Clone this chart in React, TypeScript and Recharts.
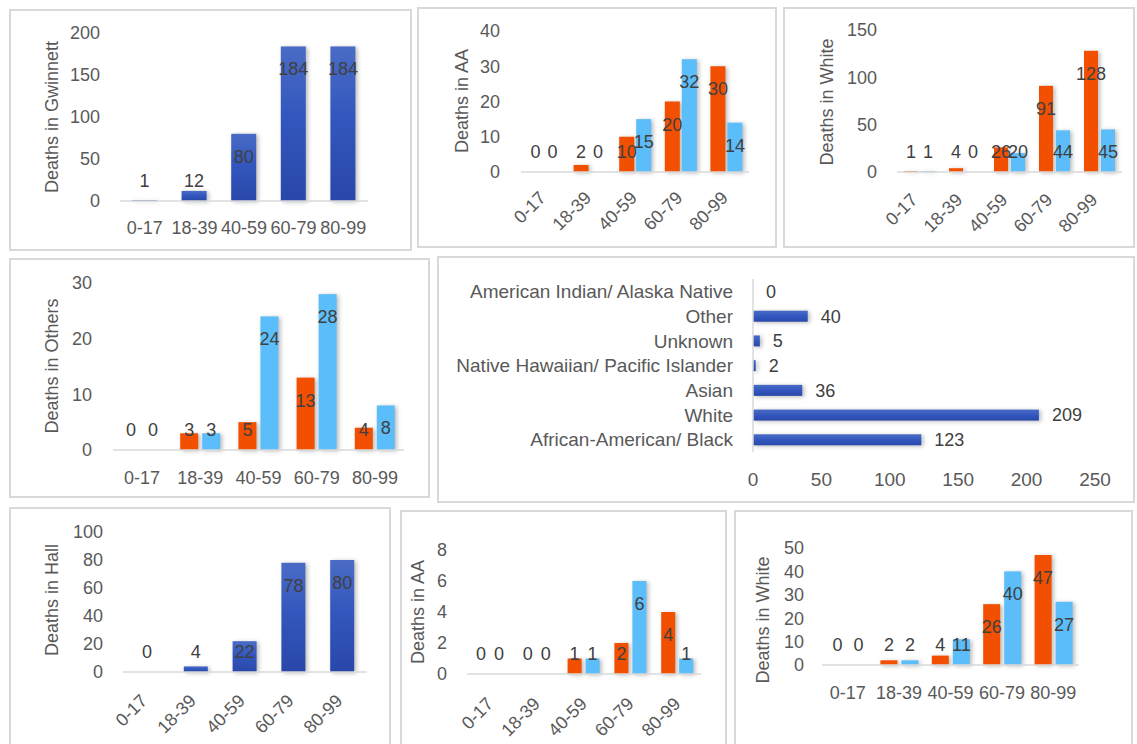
import React from "react";
import { BarChart, Bar, XAxis, YAxis, LabelList } from "recharts";

const FONT = "'Liberation Sans', Arial, sans-serif";
const ORANGE = "#F24F00";
const LIGHT_BLUE = "#5BBEFA";
const AXIS = { stroke: "#D9D9D9", strokeWidth: 1.5 };
const TICK = { fill: "#595959", fontSize: 18, fontFamily: FONT };

// age groups on every column chart
const AGES = ["0-17", "18-39", "40-59", "60-79", "80-99"];

// Gwinnett
const gwinnettAll = [1, 12, 80, 184, 184];
const gwinnettAA_a = [0, 2, 10, 20, 30];
const gwinnettAA_b = [0, 0, 15, 32, 14];
const gwinnettWhite_a = [1, 4, 26, 91, 128];
const gwinnettWhite_b = [1, 0, 20, 44, 45];
const others_a = [0, 3, 5, 13, 4];
const others_b = [0, 3, 24, 28, 8];

// race breakdown
const RACES = [
  "American Indian/ Alaska Native",
  "Other",
  "Unknown",
  "Native Hawaiian/ Pacific Islander",
  "Asian",
  "White",
  "African-American/ Black",
];
const raceDeaths = [0, 40, 5, 2, 36, 209, 123];

// Hall
const hallAll = [0, 4, 22, 78, 80];
const hallAA_a = [0, 0, 1, 2, 4];
const hallAA_b = [0, 0, 1, 6, 1];
const hallWhite_a = [0, 2, 4, 26, 47];
const hallWhite_b = [0, 2, 11, 40, 27];

// axis ticks
const ticks200 = [0, 50, 100, 150, 200];
const ticks40 = [0, 10, 20, 30, 40];
const ticks150 = [0, 50, 100, 150];
const ticks30 = [0, 10, 20, 30];
const ticks250 = [0, 50, 100, 150, 200, 250];
const ticks100 = [0, 20, 40, 60, 80, 100];
const ticks8 = [0, 2, 4, 6, 8];
const ticks50 = [0, 10, 20, 30, 40, 50];

const table = (a: number[], b?: number[]) =>
  AGES.map((age, i) =>
    b
      ? { age, a: a[i], b: b[i], aText: String(a[i]), bText: String(b[i]) }
      : { age, a: a[i], aText: String(a[i]) }
  );

const raceRows = RACES.map((race, i) => ({
  race,
  value: raceDeaths[i],
  valueText: String(raceDeaths[i]),
}));

const InsideLabel = (props: any) => {
  const vb =
    props.viewBox && typeof props.viewBox.height === "number" ? props.viewBox : props;
  const x = Number(vb.x);
  const y = Number(vb.y);
  const w = Number(vb.width);
  const h = Number(vb.height);
  const top = Math.min(y, y + h);
  const base = Math.max(y, y + h);
  const cy = Math.min(top + 23, base - 20);
  return (
    <text
      x={x + w / 2}
      y={cy}
      textAnchor="middle"
      dominantBaseline="central"
      fontSize={18}
      fontFamily={FONT}
      fill="#404040"
    >
      {props.value}
    </text>
  );
};

const ShadowRect = (props: any) => {
  const { x, y, width, height, fill } = props;
  if (!width || !height) return <g />;
  return (
    <rect
      x={x}
      y={y}
      width={width}
      height={height}
      fill={fill}
      style={{ filter: "drop-shadow(2px 1px 2px rgba(0,0,0,0.28))" }}
    />
  );
};

const RotTick = (props: any) => {
  const { x, y, payload, ox, oy } = props;
  return (
    <text
      x={0}
      y={0}
      transform={`translate(${x + ox},${y + oy}) rotate(-45)`}
      textAnchor="end"
      fontSize={18}
      fontFamily={FONT}
      fill="#595959"
    >
      {payload.value}
    </text>
  );
};

const Frame = ({ left, top, w, h, children }: any) => (
  <div style={{ position: "absolute", left, top, width: w, height: h }}>
    <div
      style={{
        position: "absolute",
        left: 0,
        top: 0,
        width: w,
        height: h,
        border: "2px solid #D9D9D9",
        boxSizing: "border-box",
      }}
    />
    <div style={{ position: "absolute", left: 0, top: 0 }}>{children}</div>
  </div>
);

const yTitle = (text: string, tx: number, ty: number) => () =>
  (
    <text
      transform={`translate(${tx},${ty}) rotate(-90)`}
      textAnchor="middle"
      dominantBaseline="central"
      fontSize={18}
      fontFamily={FONT}
      fill="#595959"
    >
      {text}
    </text>
  );

const ColumnPanel = (p: any) => {
  const grad = `blue-${p.id}`;
  const series = p.two
    ? [
        { key: "a", fill: ORANGE },
        { key: "b", fill: LIGHT_BLUE },
      ]
    : [{ key: "a", fill: `url(#${grad})` }];
  return (
    <Frame left={p.left} top={p.top} w={p.w} h={p.h}>
      <BarChart
        width={p.w}
        height={p.h}
        data={p.data}
        margin={{ top: p.mt, right: p.mr, left: 0, bottom: 0 }}
        barGap={p.gap ?? 4}
      >
        <defs>
          <linearGradient id={grad} x1="0" y1="0" x2="0" y2="1">
            <stop offset="0%" stopColor="#4A6CC6" />
            <stop offset="45%" stopColor="#3357BE" />
            <stop offset="100%" stopColor="#2947AA" />
          </linearGradient>
        </defs>
        <XAxis
          dataKey="age"
          height={p.xh}
          interval={0}
          axisLine={AXIS}
          tickLine={false}
          tickSize={0}
          tickMargin={p.rot ? 0 : p.xGap}
          tick={
            p.rot
              ? (t: any) => <RotTick {...t} ox={p.rot[0]} oy={p.rot[1]} />
              : TICK
          }
        />
        <YAxis
          type="number"
          domain={[0, p.ticks[p.ticks.length - 1]]}
          ticks={p.ticks}
          interval={0}
          width={p.yw}
          axisLine={false}
          tickLine={false}
          tickSize={0}
          tickMargin={p.yGap}
          tick={TICK}
          label={yTitle(p.title, p.tx, p.ty)}
        />
        {series.map((s) => (
          <Bar
            key={s.key}
            dataKey={s.key}
            fill={s.fill}
            barSize={p.size}
            shape={ShadowRect}
            isAnimationActive={false}
          >
            <LabelList dataKey={`${s.key}Text`} content={InsideLabel} />
          </Bar>
        ))}
      </BarChart>
    </Frame>
  );
};

export default function App() {
  return (
    <div
      style={{
        position: "absolute",
        left: 0,
        top: 0,
        width: 1137,
        height: 744,
        overflow: "hidden",
        background: "#ffffff",
        fontFamily: FONT,
      }}
    >
      <ColumnPanel
        id="gw"
        left={9}
        top={9}
        w={403}
        h={242}
        mt={24}
        mr={44}
        xh={50}
        yw={111}
        yGap={20}
        xGap={20}
        ticks={ticks200}
        size={25}
        data={table(gwinnettAll)}
        title="Deaths in Gwinnett"
        tx={43}
        ty={108}
      />
      <ColumnPanel
        id="gwaa"
        two
        left={417}
        top={7}
        w={360}
        h={241}
        mt={24}
        mr={28}
        xh={76}
        yw={104}
        yGap={21}
        rot={[3, 27]}
        ticks={ticks40}
        size={15}
        gap={2}
        data={table(gwinnettAA_a, gwinnettAA_b)}
        title="Deaths in AA"
        tx={45}
        ty={94}
      />
      <ColumnPanel
        id="gwwh"
        two
        left={783}
        top={7}
        w={352}
        h={241}
        mt={23}
        mr={13}
        xh={76}
        yw={114}
        yGap={20}
        rot={[-1, 29]}
        ticks={ticks150}
        size={14}
        gap={3}
        data={table(gwinnettWhite_a, gwinnettWhite_b)}
        title="Deaths in White"
        tx={44}
        ty={95}
      />
      <ColumnPanel
        id="oth"
        two
        left={9}
        top={258}
        w={421}
        h={240}
        mt={25}
        mr={26}
        xh={48}
        yw={104}
        yGap={21}
        xGap={21}
        ticks={ticks30}
        size={18}
        gap={4}
        data={table(others_a, others_b)}
        title="Deaths in Others"
        tx={43}
        ty={108}
      />

      <Frame left={437} top={256} w={698} h={247}>
        <BarChart
          layout="vertical"
          width={698}
          height={247}
          data={raceRows}
          margin={{ top: 23, right: 40, left: 0, bottom: 0 }}
        >
          <defs>
            <linearGradient id="blue-race" x1="0" y1="0" x2="0" y2="1">
              <stop offset="0%" stopColor="#4A6CC6" />
              <stop offset="50%" stopColor="#3357BE" />
              <stop offset="100%" stopColor="#2947AA" />
            </linearGradient>
          </defs>
          <XAxis
            type="number"
            domain={[0, 250]}
            ticks={ticks250}
            interval={0}
            height={51}
            axisLine={false}
            tickLine={false}
            tickSize={0}
            tickMargin={21}
            tick={{ ...TICK, fontSize: 19 }}
          />
          <YAxis
            type="category"
            dataKey="race"
            width={316}
            interval={0}
            axisLine={AXIS}
            tickLine={false}
            tickSize={0}
            tickMargin={20}
            tick={{ ...TICK, fontSize: 19 }}
          />
          <Bar
            dataKey="value"
            fill="url(#blue-race)"
            barSize={11}
            shape={ShadowRect}
            isAnimationActive={false}
          >
            <LabelList
              dataKey="valueText"
              position="right"
              offset={13}
              fill="#404040"
              fontSize={18}
              fontFamily={FONT}
            />
          </Bar>
        </BarChart>
      </Frame>

      <ColumnPanel
        id="hall"
        left={9}
        top={507}
        w={382}
        h={250}
        mt={25}
        mr={24}
        xh={85}
        yw={114}
        yGap={20}
        rot={[1, 30]}
        ticks={ticks100}
        size={24}
        data={table(hallAll)}
        title="Deaths in Hall"
        tx={43}
        ty={93}
      />
      <ColumnPanel
        id="hallaa"
        two
        left={400}
        top={510}
        w={327}
        h={250}
        mt={40}
        mr={26}
        xh={86}
        yw={67}
        yGap={20}
        rot={[4, 31]}
        ticks={ticks8}
        size={14}
        gap={4}
        data={table(hallAA_a, hallAA_b)}
        title="Deaths in AA"
        tx={18}
        ty={102}
      />
      <ColumnPanel
        id="hallwh"
        two
        left={734}
        top={510}
        w={399}
        h={250}
        mt={38}
        mr={54}
        xh={95}
        yw={88}
        yGap={18}
        xGap={21}
        ticks={ticks50}
        size={17}
        gap={4}
        data={table(hallWhite_a, hallWhite_b)}
        title="Deaths in White"
        tx={29}
        ty={110}
      />
    </div>
  );
}
